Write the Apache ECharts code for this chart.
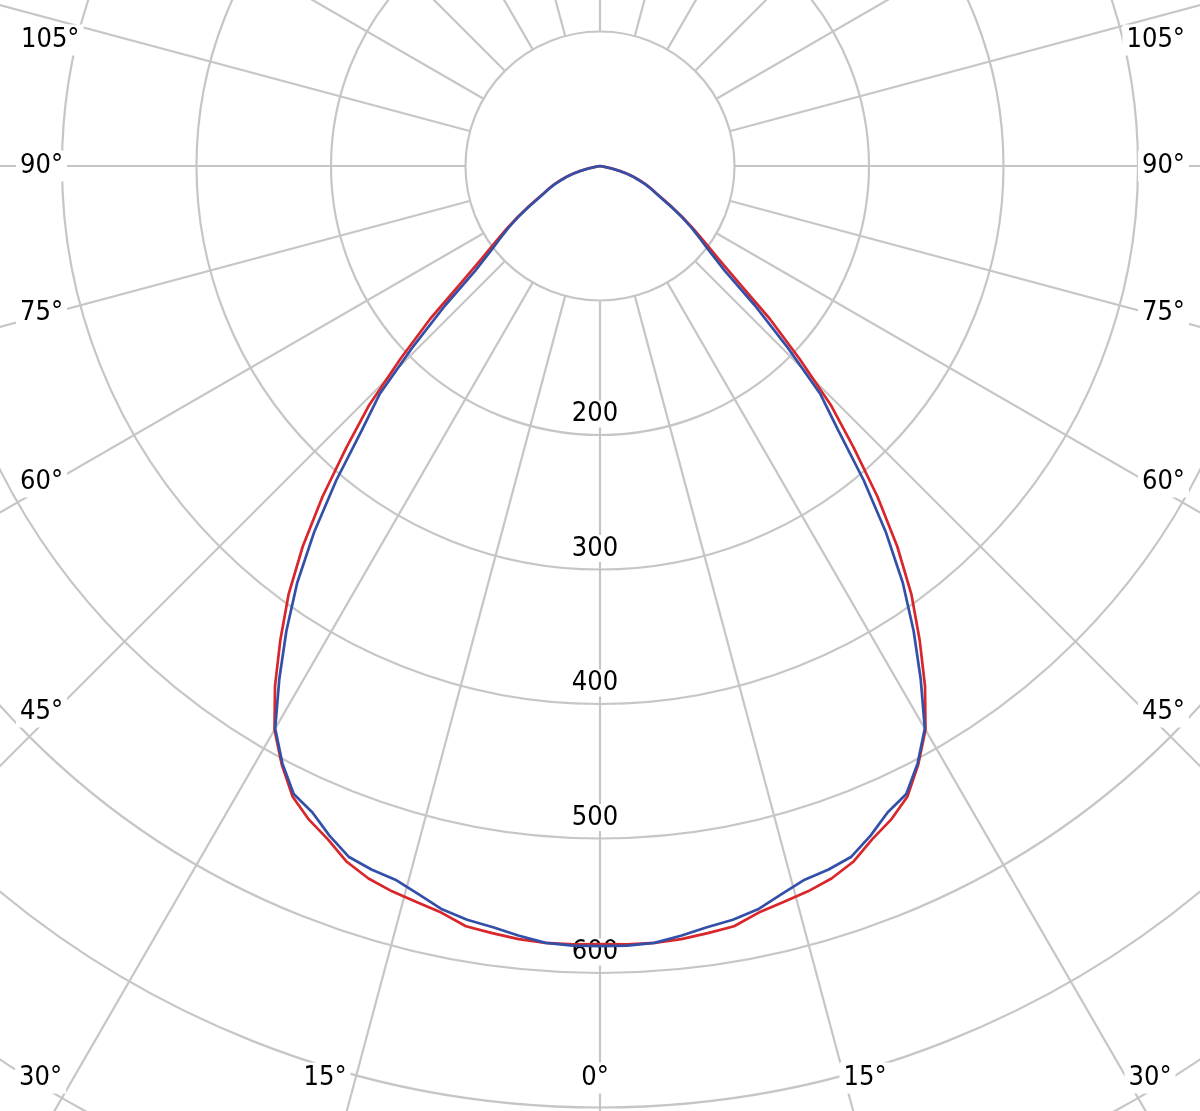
<!DOCTYPE html>
<html>
<head>
<meta charset="utf-8">
<script src="https://cdn.jsdelivr.net/npm/echarts@6/dist/echarts.min.js"></script>
<style>
html,body{margin:0;padding:0;background:#fff;}
#chart{width:1200px;height:1111px;}
</style>
</head>
<body>
<div id="chart"></div>
<script>
// ---- data ----
const angles = [0,2,4,6,8,10,12,14,16,18,20,22,24,26,28,30,32,34,36,38,40,42,44,46,48,50,52,54,56,58,60,62,64,66,68,70,72,74,76,78,80,82,84,86,88,90];
const redValues = [578.5,579,579,578,576,574,567.5,564,561,557,550.5,540,532,521.5,504,484,456,425,394,359,321,282,247,206,170,134,111,96,84,73,63,54,47,42,37,31.5,26.5,21,15,9,3.5,0,0,0,0,0];
const blueValues = [580,580,579,575.5,571.5,569,565,558,552,550,546.5,537,526,519.5,503,483,450,417,383,345,305,265,236,193,155,121,104,92,82,72,62,53,46.5,41.5,36.5,31,26,20.5,14.5,8.5,3,0,0,0,0,0];
const radialTickLabels = [200,300,400,500,600];
const angleTickLabels = ['105°','90°','75°','60°','45°','30°','15°','0°','15°','30°','45°','60°','75°','90°','105°'];

// ---- layout (label placement only) ----
const angleLabelPos = [
  [17,40,'left'],[16,166,'left'],[16,313,'left'],[16,482,'left'],[16,712,'left'],[15,1078,'left'],
  [325,1078,'center'],[595,1078,'center'],[865,1078,'center'],
  [1150,1078,'center'],[1189,712,'right'],[1189,482,'right'],[1189,313,'right'],[1189,166,'right'],[1189,40,'right']
];
const CX = 600, CY = 166, R = 1345;
const GRID = '#c6c6c6';
const FONT = '27px "DejaVu Sans Condensed", "Liberation Sans", Arial, sans-serif';

function buildLoop(vals){
  const pts = [];
  for (let i = angles.length - 1; i >= 1; i--) pts.push([vals[i], 360 - angles[i]]);
  for (let i = 0; i < angles.length; i++) pts.push([vals[i], angles[i]]);
  return pts;
}

const chart = echarts.init(document.getElementById('chart'), null, {renderer:'canvas'});
const hidden = {show:false};
chart.setOption({
  animation:false,
  backgroundColor:'#fff',
  polar:[
    {center:[CX,CY], radius:[0,R]},
    {center:[CX,CY], radius:[135,R]}
  ],
  angleAxis:[
    {polarIndex:0, type:'value', min:0, max:360, interval:15, startAngle:270, clockwise:true,
     axisLine:hidden, axisTick:hidden, axisLabel:hidden, splitLine:hidden},
    {polarIndex:1, type:'value', min:0, max:360, interval:15, startAngle:270, clockwise:true,
     axisLine:hidden, axisTick:hidden, axisLabel:hidden,
     splitLine:{show:true, lineStyle:{color:GRID, width:2.2}}}
  ],
  radiusAxis:[
    {polarIndex:0, type:'value', min:0, max:1000, interval:100,
     axisLine:hidden, axisTick:hidden, axisLabel:hidden,
     splitLine:{show:true, lineStyle:{color:GRID, width:2.2}}},
    {polarIndex:1, type:'value', min:100, max:1000, interval:100,
     axisLine:hidden, axisTick:hidden, axisLabel:hidden, splitLine:hidden}
  ],
  series:[
    {type:'line', coordinateSystem:'polar', polarIndex:0, data:buildLoop(redValues),
     showSymbol:false, smooth:false, lineStyle:{color:'#d9262b', width:2.7}, z:3},
    {type:'line', coordinateSystem:'polar', polarIndex:0, data:buildLoop(blueValues),
     showSymbol:false, smooth:false, lineStyle:{color:'#3350a8', width:2.7}, z:4}
  ]
});

const graphics = [];
radialTickLabels.forEach(function(v){
  const p = chart.convertToPixel({seriesIndex:0}, [v, 0]);
  graphics.push({type:'text', z:1, style:{text:String(v), x:p[0]-5, y:p[1]-21, font:FONT, fill:'#000',
    textAlign:'center', textVerticalAlign:'middle', backgroundColor:'#fff', padding:[0,3]}});
});
angleTickLabels.forEach(function(t, i){
  const pos = angleLabelPos[i];
  graphics.push({type:'text', z:1, style:{text:t, x:pos[0], y:pos[1], font:FONT, fill:'#000',
    textAlign:pos[2], textVerticalAlign:'middle', backgroundColor:'#fff', padding:[2,4]}});
});
chart.setOption({graphic:graphics});
</script>
</body>
</html>
